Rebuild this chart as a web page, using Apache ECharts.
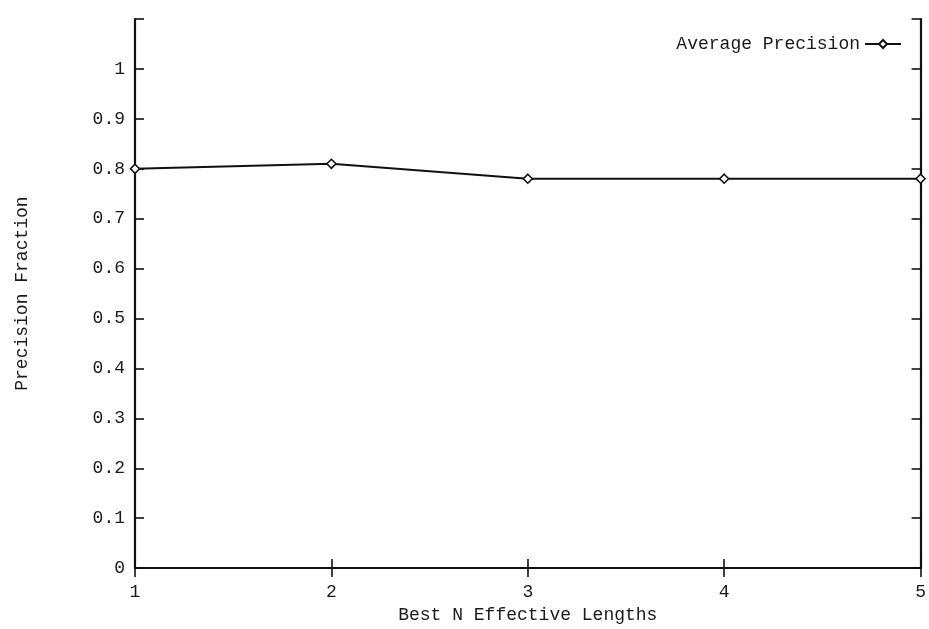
<!DOCTYPE html>
<html>
<head>
<meta charset="utf-8">
<script src="https://cdn.jsdelivr.net/npm/echarts@6/dist/echarts.min.js"></script>
<style>html,body{margin:0;padding:0;background:#fff;}#c{width:929px;height:629px;}</style>
</head>
<body>
<div id="c"></div>
<script>
const xValues = [1, 2, 3, 4, 5];
const precision = [0.80, 0.81, 0.78, 0.78, 0.78];
const seriesName = 'Average Precision';
const xTitle = 'Best N Effective Lengths';
const yTitle = 'Precision Fraction';

const FONT = '"Liberation Mono", "DejaVu Sans Mono", monospace';
const FS = 18;
const chart = echarts.init(document.getElementById('c'), null, {renderer: 'canvas'});
const axisLine = {show: true, lineStyle: {color: '#111', width: 2.2}};
const tick = {show: true, inside: true, length: 9, lineStyle: {color: '#111', width: 1.6}};
const label = {color: '#1a1a1a', fontFamily: FONT, fontSize: FS};
function yFmt(v) {
  if (v > 1.0001) return '';
  if (Math.abs(v) < 1e-9) return '0';
  if (Math.abs(v - 1) < 1e-9) return '1';
  return v.toFixed(1);
}
chart.setOption({
  backgroundColor: '#fff',
  animation: false,
  grid: {left: 135, right: 2, top: 19, bottom: 52, containLabel: false},
  legend: {
    data: [{name: seriesName}],
    right: 22, top: 30, align: 'right',
    itemWidth: 36, itemHeight: 10, itemGap: 8,
    textStyle: {color: '#1a1a1a', fontFamily: FONT, fontSize: FS}
  },
  xAxis: [{
    type: 'value', min: 1, max: 5, interval: 1, position: 'bottom',
    axisLine: axisLine, axisTick: tick, splitLine: {show: false},
    axisLabel: Object.assign({margin: 15}, label),
    name: xTitle, nameLocation: 'middle', nameGap: 30,
    nameTextStyle: {color: '#1a1a1a', fontFamily: FONT, fontSize: FS}
  }, {
    type: 'value', min: 1, max: 5, interval: 1, position: 'top',
    axisLine: axisLine, axisTick: tick, splitLine: {show: false},
    axisLabel: {show: false}
  }],
  yAxis: [{
    type: 'value', min: 0, max: 1.1, interval: 0.1, position: 'left',
    axisLine: axisLine, axisTick: tick, splitLine: {show: false},
    axisLabel: Object.assign({margin: 10, formatter: yFmt}, label),
    name: yTitle, nameLocation: 'middle', nameGap: 104, nameRotate: 90,
    nameTextStyle: {color: '#1a1a1a', fontFamily: FONT, fontSize: FS}
  }, {
    type: 'value', min: 0, max: 1.1, interval: 0.1, position: 'right',
    axisLine: axisLine, axisTick: tick, splitLine: {show: false},
    axisLabel: {show: false}
  }],
  series: [{
    name: seriesName, type: 'line',
    data: xValues.map((x, i) => [x, precision[i]]),
    symbol: 'diamond', symbolSize: 9, showSymbol: true,
    lineStyle: {color: '#111', width: 1.8},
    itemStyle: {color: '#fff', borderColor: '#111', borderWidth: 1.6},
    clip: false
  }]
});
</script>
</body>
</html>
